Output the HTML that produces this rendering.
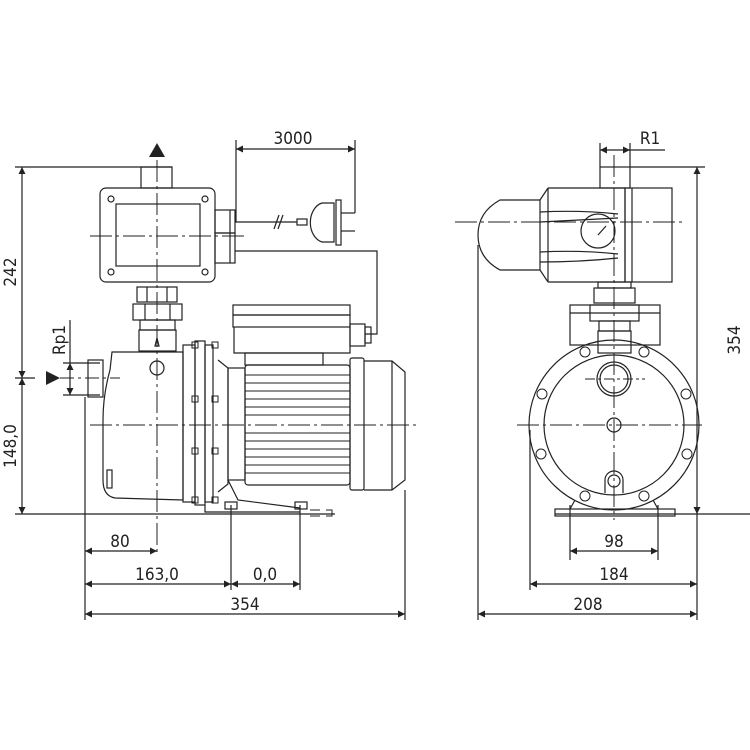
<!DOCTYPE html>
<html><head><meta charset="utf-8"><style>
html,body{margin:0;padding:0;background:#fff}
svg{display:block}
text{font-family:"DejaVu Sans Condensed","Liberation Sans Narrow","DejaVu Sans",sans-serif;font-size:17px;fill:#222}
</style></head><body>
<svg width="750" height="750" viewBox="0 0 750 750" xmlns="http://www.w3.org/2000/svg">
<defs>
<marker id="a" viewBox="0 0 10 10" refX="10" refY="5" markerWidth="12" markerHeight="7" orient="auto-start-reverse" markerUnits="userSpaceOnUse"><path d="M0,0L10,5L0,10z" fill="#222"/></marker>
</defs>
<g fill="none" stroke="#222" stroke-width="1.2">
<!-- ===== LEFT VIEW ===== -->
<!-- ground / extension lines -->
<line x1="15" y1="514" x2="335" y2="514"/>
<line x1="15" y1="167" x2="172" y2="167"/>
<line x1="15" y1="378" x2="35" y2="378"/>
<line x1="22" y1="167" x2="22" y2="378" marker-start="url(#a)" marker-end="url(#a)"/>
<line x1="22" y1="378" x2="22" y2="514" marker-start="url(#a)" marker-end="url(#a)"/>
<!-- center lines -->
<line x1="157" y1="160" x2="157" y2="555" stroke-dasharray="22,4,3,4" stroke-width="1"/>
<line x1="90" y1="236" x2="245" y2="236" stroke-dasharray="22,4,3,4" stroke-width="1"/>
<line x1="90" y1="425" x2="420" y2="425" stroke-dasharray="22,4,3,4" stroke-width="1"/>
<line x1="60" y1="378" x2="120" y2="378" stroke-dasharray="14,4,3,4" stroke-width="1"/>
<!-- outlet pipe -->
<rect x="141" y="167" width="31" height="21"/>
<!-- pressure switch box -->
<rect x="100" y="188" width="115" height="94" rx="6"/>
<rect x="116" y="204" width="84" height="62"/>
<circle cx="111" cy="199" r="3"/><circle cx="205" cy="199" r="3"/>
<circle cx="111" cy="272" r="3"/><circle cx="205" cy="272" r="3"/>
<rect x="215" y="210" width="20" height="23"/>
<rect x="215" y="233" width="20" height="30"/>
<line x1="230" y1="210" x2="230" y2="263"/>
<!-- cable & plug -->
<line x1="235" y1="222" x2="297" y2="222"/>
<line x1="274" y1="229" x2="279" y2="215"/><line x1="278" y1="229" x2="283" y2="215"/>
<rect x="297" y="219" width="10" height="6"/>
<path d="M334,203 L322,203 A15,20 0 0 0 322,242 L334,242 Z"/>
<rect x="336" y="200" width="5" height="45"/>
<line x1="341" y1="213" x2="355" y2="213"/><line x1="341" y1="231" x2="355" y2="231"/>
<line x1="355" y1="140" x2="355" y2="213"/>
<line x1="236" y1="140" x2="236" y2="222"/>
<line x1="236" y1="149" x2="355" y2="149" marker-start="url(#a)" marker-end="url(#a)"/>
<polyline points="235,251 377,251 377,334 365,334"/>
<!-- fittings -->
<rect x="137" y="287" width="40" height="15"/>
<line x1="147" y1="287" x2="147" y2="302"/><line x1="167" y1="287" x2="167" y2="302"/>
<rect x="133" y="304" width="49" height="16"/>
<line x1="145" y1="304" x2="145" y2="320"/><line x1="170" y1="304" x2="170" y2="320"/>
<rect x="140" y="320" width="35" height="10"/>
<rect x="139" y="330" width="37" height="21"/>
<path d="M155,346 L157,338 L159,346 Z"/>
<!-- pump casing -->
<path d="M112,352 L183,352 L183,500 L115,498 Q103,496 103,480 L103,420 Q103,395 110,370 Z"/>
<rect x="88" y="360" width="15" height="37"/>
<circle cx="157" cy="368" r="7"/>
<rect x="107" y="470" width="5" height="18"/>
<!-- flange -->
<rect x="183" y="345" width="12" height="157"/>
<rect x="195" y="341" width="10" height="164"/>
<rect x="205" y="345" width="8" height="157"/>
<g stroke-width="1">
<rect x="192" y="342" width="6" height="6"/><rect x="212" y="342" width="6" height="6"/>
<rect x="192" y="396" width="6" height="6"/><rect x="212" y="396" width="6" height="6"/>
<rect x="192" y="448" width="6" height="6"/><rect x="212" y="448" width="6" height="6"/>
<rect x="192" y="497" width="6" height="6"/><rect x="212" y="497" width="6" height="6"/>
</g>
<path d="M218,360 L228,368 L228,484 L218,492"/>
<rect x="228" y="368" width="17" height="112"/>
<!-- terminal box -->
<rect x="233" y="305" width="117" height="10"/>
<rect x="233" y="315" width="117" height="12"/>
<path d="M234,327 L234,353 L350,353 L350,327"/>
<rect x="245" y="353" width="78" height="12"/>
<rect x="350" y="324" width="15" height="22"/>
<rect x="365" y="327" width="6" height="16"/>
<!-- stator -->
<rect x="245" y="365" width="105" height="120" rx="3"/>
<g stroke-width="1">
<line x1="245" y1="375" x2="350" y2="375"/><line x1="245" y1="383" x2="350" y2="383"/>
<line x1="245" y1="391" x2="350" y2="391"/><line x1="245" y1="399" x2="350" y2="399"/>
<line x1="245" y1="407" x2="350" y2="407"/><line x1="245" y1="415" x2="350" y2="415"/>
<line x1="245" y1="433" x2="350" y2="433"/><line x1="245" y1="441" x2="350" y2="441"/>
<line x1="245" y1="449" x2="350" y2="449"/><line x1="245" y1="457" x2="350" y2="457"/>
<line x1="245" y1="465" x2="350" y2="465"/><line x1="245" y1="473" x2="350" y2="473"/>
</g>
<rect x="350" y="358" width="14" height="132" rx="2"/>
<path d="M364,361 L392,361 L405,372 L405,480 L392,490 L364,490"/>
<line x1="392" y1="361" x2="392" y2="490"/>
<!-- base -->
<path d="M205,505 L205,512 L300,512"/>
<path d="M228,480 L238,500 L300,508"/>
<rect x="225" y="502" width="12" height="7"/><rect x="295" y="502" width="12" height="7"/>
<path d="M310,510 L320,510 M326,510 L332,510 L332,516 L326,516 M310,516 L320,516" stroke-width="1"/>
<!-- dimension lines -->
<line x1="85" y1="397" x2="85" y2="620"/>
<line x1="231" y1="505" x2="231" y2="590"/>
<line x1="300" y1="505" x2="300" y2="590"/>
<line x1="405" y1="490" x2="405" y2="620"/>
<line x1="63" y1="363" x2="100" y2="363"/><line x1="63" y1="395" x2="100" y2="395"/>
<line x1="70" y1="363" x2="70" y2="395" marker-start="url(#a)" marker-end="url(#a)"/>
<line x1="70" y1="320" x2="70" y2="363"/>
<line x1="85" y1="551" x2="157" y2="551" marker-start="url(#a)" marker-end="url(#a)"/>
<line x1="85" y1="584" x2="231" y2="584" marker-start="url(#a)" marker-end="url(#a)"/>
<line x1="231" y1="584" x2="300" y2="584" marker-start="url(#a)" marker-end="url(#a)"/>
<line x1="85" y1="614" x2="405" y2="614" marker-start="url(#a)" marker-end="url(#a)"/>

<!-- ===== RIGHT VIEW ===== -->
<line x1="555" y1="514" x2="750" y2="514"/>
<line x1="630" y1="167" x2="705" y2="167"/>
<line x1="697" y1="167" x2="697" y2="514" marker-start="url(#a)" marker-end="url(#a)"/>
<line x1="600" y1="143" x2="600" y2="167"/><line x1="630" y1="143" x2="630" y2="167"/>
<line x1="600" y1="150" x2="630" y2="150" marker-start="url(#a)" marker-end="url(#a)"/>
<line x1="630" y1="150" x2="665" y2="150"/>
<line x1="614" y1="155" x2="614" y2="520" stroke-dasharray="22,4,3,4" stroke-width="1"/>
<line x1="455" y1="222" x2="682" y2="222" stroke-dasharray="22,4,3,4" stroke-width="1"/>
<line x1="517" y1="425" x2="702" y2="425" stroke-dasharray="22,4,3,4" stroke-width="1"/>
<!-- switch -->
<rect x="600" y="167" width="30" height="21"/>
<path d="M548,188 L625,188 L625,282 L548,282"/>
<rect x="625" y="188" width="47" height="94"/>
<line x1="632" y1="188" x2="632" y2="282"/>
<path d="M540,200 L540,270 L500,270 Q478,258 478,235 Q478,212 500,200 Z"/>
<line x1="540" y1="200" x2="548" y2="188"/><line x1="540" y1="270" x2="548" y2="282"/>
<line x1="548" y1="188" x2="548" y2="282"/>
<path d="M540,212 Q580,210 618,214 M540,222 Q580,220 618,218"/>
<path d="M540,252 Q580,250 618,254 M540,262 Q580,262 618,258"/>
<circle cx="598" cy="231" r="17"/>
<line x1="598" y1="235" x2="606" y2="226"/>
<!-- fittings right -->
<rect x="598" y="282" width="33" height="6"/>
<rect x="594" y="288" width="41" height="15"/>
<rect x="570" y="305" width="90" height="40"/>
<line x1="570" y1="313" x2="660" y2="313"/>
<rect x="590" y="305" width="49" height="16"/>
<rect x="599" y="321" width="31" height="10"/>
<rect x="598" y="331" width="33" height="22"/>
<!-- pump front -->
<circle cx="614" cy="425" r="85"/>
<circle cx="614" cy="425" r="70"/>
<circle cx="614" cy="379" r="17"/><circle cx="614" cy="379" r="14"/>
<line x1="585" y1="379" x2="645" y2="379" stroke-dasharray="10,3,3,3" stroke-width="1"/>
<circle cx="614" cy="425" r="7"/>
<path d="M605,493 L605,480 A9,9 0 0 1 623,480 L623,493"/>
<circle cx="614" cy="481" r="6"/>
<g stroke-width="1">
<circle cx="585" cy="352" r="5"/><circle cx="644" cy="352" r="5"/>
<circle cx="542" cy="394" r="5"/><circle cx="686" cy="394" r="5"/>
<circle cx="541" cy="454" r="5"/><circle cx="687" cy="454" r="5"/>
<circle cx="585" cy="496" r="5"/><circle cx="644" cy="496" r="5"/>
</g>
<rect x="555" y="509" width="120" height="7"/>
<line x1="575" y1="500" x2="570" y2="509"/><line x1="653" y1="500" x2="658" y2="509"/>
<!-- dims right -->
<line x1="478" y1="245" x2="478" y2="620"/>
<line x1="530" y1="430" x2="530" y2="590"/>
<line x1="697" y1="514" x2="697" y2="620"/>
<line x1="570" y1="505" x2="570" y2="560"/><line x1="658" y1="505" x2="658" y2="560"/>
<line x1="570" y1="551" x2="658" y2="551" marker-start="url(#a)" marker-end="url(#a)"/>
<line x1="530" y1="584" x2="697" y2="584" marker-start="url(#a)" marker-end="url(#a)"/>
<line x1="478" y1="614" x2="697" y2="614" marker-start="url(#a)" marker-end="url(#a)"/>
</g>
<!-- flow arrows -->
<path d="M149,157 L157,143 L165,157 Z" fill="#222"/>
<path d="M46,371 L60,378 L46,385 Z" fill="#222"/>
<!-- texts -->
<text x="293" y="144" text-anchor="middle">3000</text>
<text x="650" y="144" text-anchor="middle">R1</text>
<text x="120" y="547" text-anchor="middle">80</text>
<text x="157" y="580" text-anchor="middle">163,0</text>
<text x="265" y="580" text-anchor="middle">0,0</text>
<text x="245" y="610" text-anchor="middle">354</text>
<text x="614" y="547" text-anchor="middle">98</text>
<text x="614" y="580" text-anchor="middle">184</text>
<text x="588" y="610" text-anchor="middle">208</text>
<text transform="translate(16,272) rotate(-90)" text-anchor="middle">242</text>
<text transform="translate(16,446) rotate(-90)" text-anchor="middle">148,0</text>
<text transform="translate(65,340) rotate(-90)" text-anchor="middle">Rp1</text>
<text transform="translate(740,340) rotate(-90)" text-anchor="middle">354</text>
</svg>
</body></html>
